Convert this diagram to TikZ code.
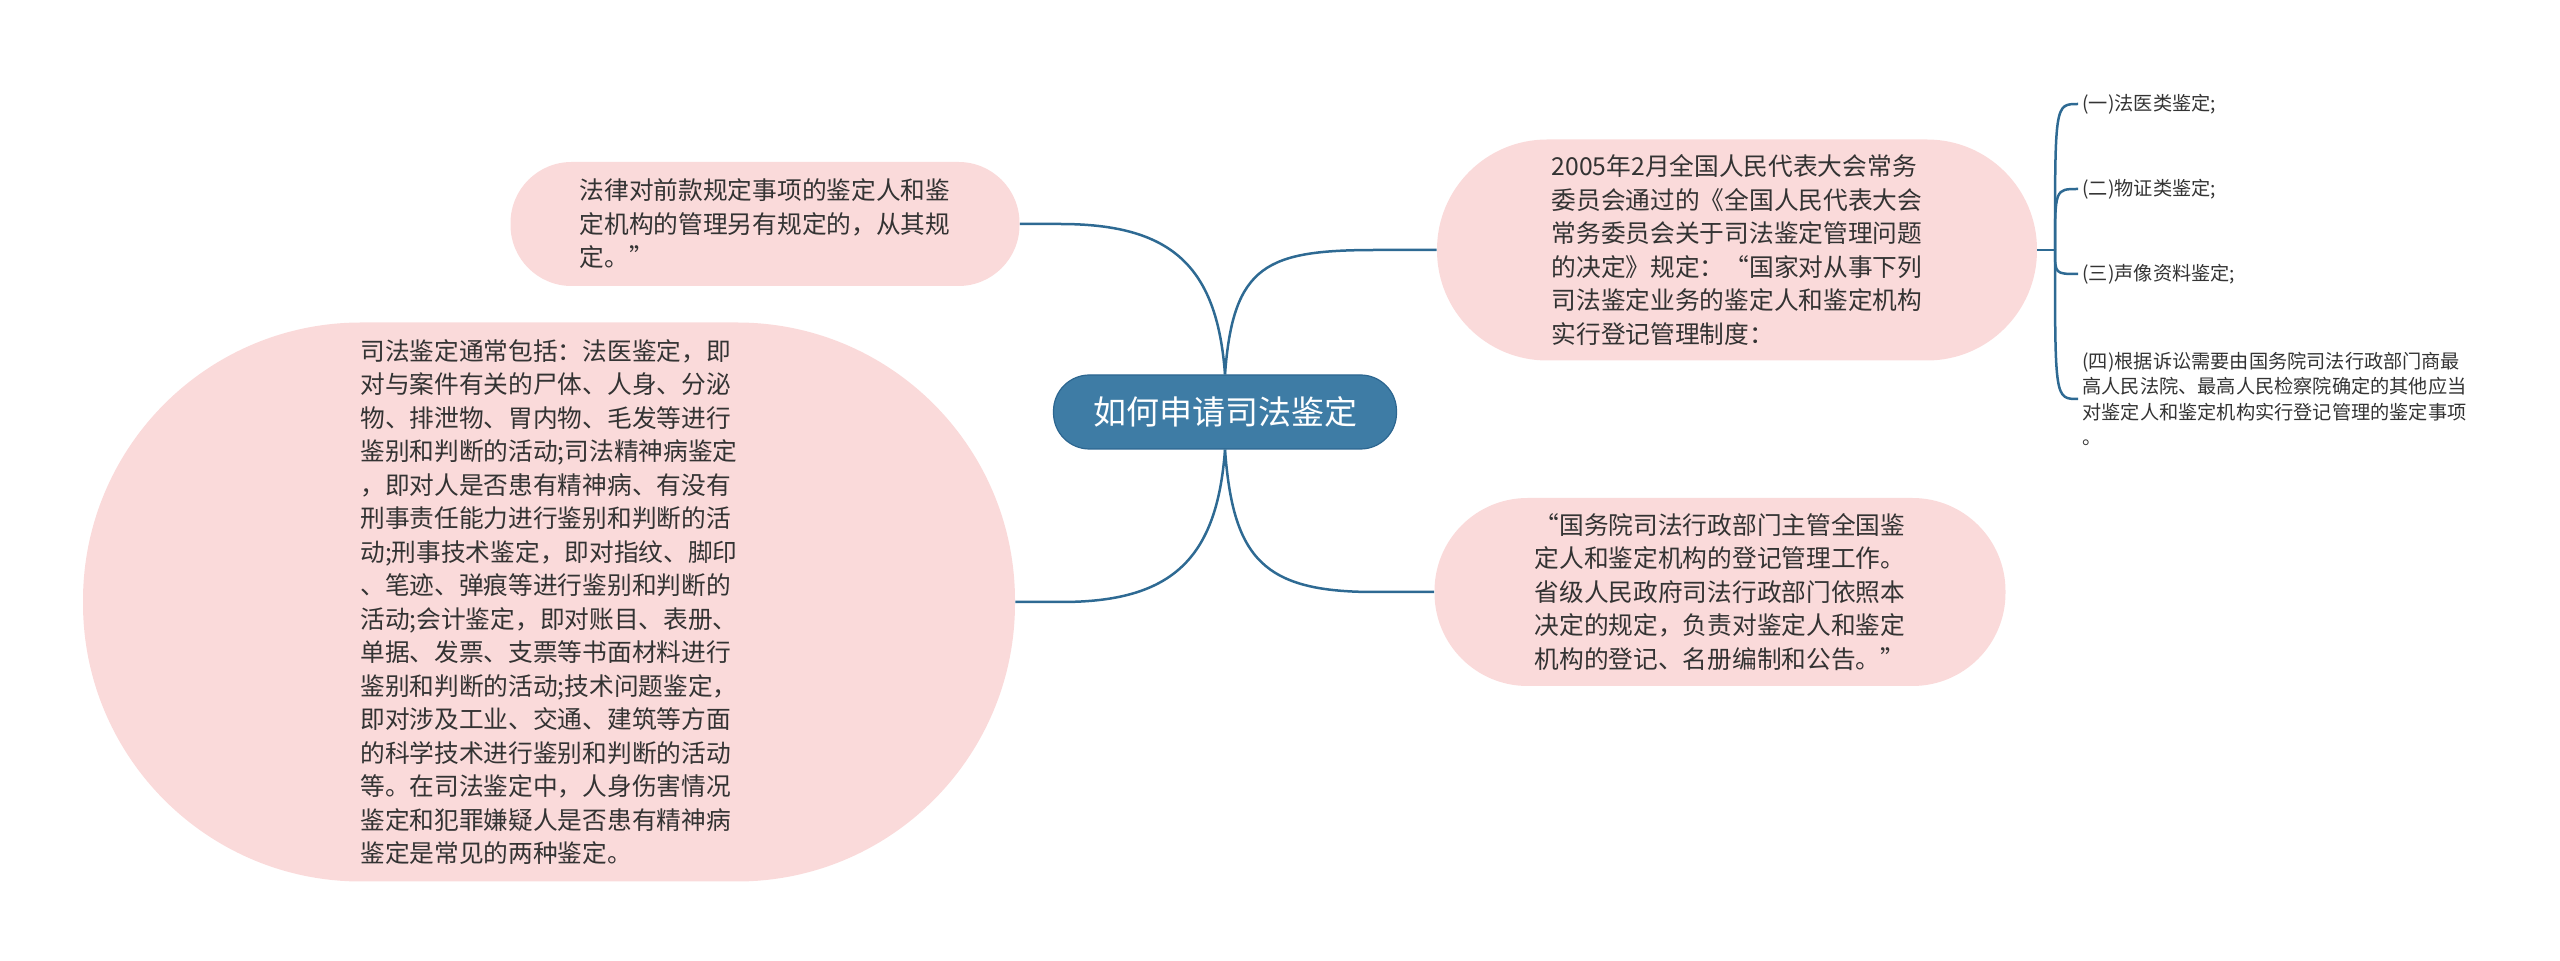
\documentclass[tikz,border=0pt]{standalone}
\usepackage{fontspec}
\setmainfont{Noto Sans CJK SC}
\usepackage{tikz}
\usetikzlibrary{positioning}
\definecolor{rootblue}{RGB}{62,124,165}
\definecolor{rootedge}{RGB}{44,102,144}
\definecolor{linkblue}{RGB}{46,106,147}
\definecolor{bubble}{RGB}{250,218,218}
\definecolor{ink}{RGB}{51,51,51}
\tikzset{
  topic/.style={fill=bubble, text=ink, align=left, inner sep=0pt,
    font=\fontsize{12.35pt}{16.75pt}\selectfont},
  item/.style={text=ink, align=left, inner sep=2pt, anchor=west,
    font=\fontsize{9.6pt}{12.75pt}\selectfont},
  link/.style={draw=linkblue, line width=1.25pt}
}

\begin{document}
\begin{tikzpicture}[x=0.5pt,y=0.5pt]
\useasboundingbox (0,0) rectangle (2560,-961);
% centre
\node[fill=rootblue, draw=rootedge, line width=0.6pt, text=white, minimum width=171.5pt, minimum height=37pt, rounded corners=18pt, font=\fontsize{16.5pt}{20pt}\selectfont] (root) at (1225,-412) {如何申请司法鉴定};
% left side
\node[topic, minimum width=254.5pt, minimum height=62pt, rounded corners=30.5pt] (law) at (765,-224) {法律对前款规定事项的鉴定人和鉴\\定机构的管理另有规定的，从其规\\定。”};
\node[topic, minimum width=466pt, minimum height=279.5pt, rounded corners=139pt] (kinds) at (549,-602) {司法鉴定通常包括：法医鉴定，即\\对与案件有关的尸体、人身、分泌\\物、排泄物、胃内物、毛发等进行\\鉴别和判断的活动;司法精神病鉴定\\，即对人是否患有精神病、有没有\\刑事责任能力进行鉴别和判断的活\\动;刑事技术鉴定，即对指纹、脚印\\、笔迹、弹痕等进行鉴别和判断的\\活动;会计鉴定，即对账目、表册、\\单据、发票、支票等书面材料进行\\鉴别和判断的活动;技术问题鉴定，\\即对涉及工业、交通、建筑等方面\\的科学技术进行鉴别和判断的活动\\等。在司法鉴定中，人身伤害情况\\鉴定和犯罪嫌疑人是否患有精神病\\鉴定是常见的两种鉴定。};
% right side
\node[topic, minimum width=300pt, minimum height=110.5pt, rounded corners=55pt] (decision) at (1737,-250) {2005年2月全国人民代表大会常务\\委员会通过的《全国人民代表大会\\常务委员会关于司法鉴定管理问题\\的决定》规定：“国家对从事下列\\司法鉴定业务的鉴定人和鉴定机构\\实行登记管理制度：};
\node[topic, minimum width=285.5pt, minimum height=94pt, rounded corners=46.5pt] (office) at (1720,-592) {“国务院司法行政部门主管全国鉴\\定人和鉴定机构的登记管理工作。\\省级人民政府司法行政部门依照本\\决定的规定，负责对鉴定人和鉴定\\机构的登记、名册编制和公告。”};
% list
\coordinate (fork) at (2055,-250);
\node[item] (i1) at (2078,-104) {(一)法医类鉴定;};
\node[item] (i2) at (2078,-189) {(二)物证类鉴定;};
\node[item] (i3) at (2078,-274) {(三)声像资料鉴定;};
\node[item] (i4) at (2078,-399) {(四)根据诉讼需要由国务院司法行政部门商最\\高人民法院、最高人民检察院确定的其他应当\\对鉴定人和鉴定机构实行登记管理的鉴定事项\\。};

\draw[link] (law.east) -- ++(40,0) .. controls +(110,0) and +(-8,110) .. (root.north);
\draw[link] (kinds.east) -- ++(46,0) .. controls +(110,0) and +(-8,-110) .. (root.south);
\draw[link] (root.north) .. controls +(8,110) and +(-110,0) .. ([xshift=-30pt]decision.west) -- (decision.west);
\draw[link] (root.south) .. controls +(8,-110) and +(-110,0) .. ([xshift=-30pt]office.west) -- (office.west);
\draw[link] (decision.east) -- (fork);
\foreach \i in {i1,i2,i3,i4}
  \draw[link] (fork) .. controls (fork |- \i.west) .. (\i.west);
\end{tikzpicture}
\end{document}
